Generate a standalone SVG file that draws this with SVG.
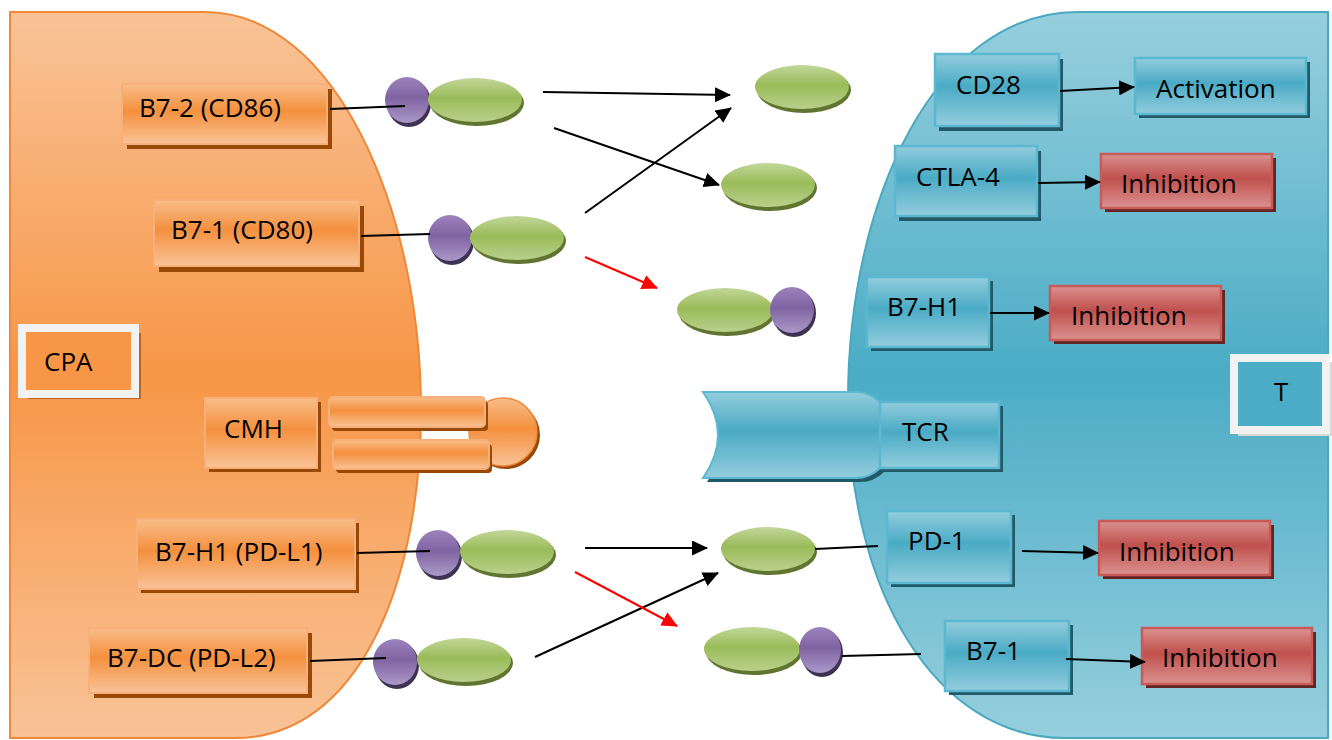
<svg xmlns="http://www.w3.org/2000/svg" width="1332" height="740" viewBox="0 0 1332 740">
<defs>
<linearGradient id="gCellO" x1="0" y1="0" x2="0" y2="1"><stop offset="0" stop-color="#f9c397"/><stop offset="0.5" stop-color="#f79646"/><stop offset="1" stop-color="#f9c397"/></linearGradient>
<linearGradient id="gCellB" x1="0" y1="0" x2="0" y2="1"><stop offset="0" stop-color="#96cfdd"/><stop offset="0.5" stop-color="#4bacc6"/><stop offset="1" stop-color="#96cfdd"/></linearGradient>
<linearGradient id="gO" x1="0" y1="0" x2="0" y2="1"><stop offset="0" stop-color="#f9bd8a"/><stop offset="0.45" stop-color="#f4903e"/><stop offset="1" stop-color="#f9c397"/></linearGradient>
<linearGradient id="gB" x1="0" y1="0" x2="0" y2="1"><stop offset="0" stop-color="#93cddd"/><stop offset="0.45" stop-color="#4aabc5"/><stop offset="1" stop-color="#93cddd"/></linearGradient>
<linearGradient id="gR" x1="0" y1="0" x2="0" y2="1"><stop offset="0" stop-color="#da9290"/><stop offset="0.45" stop-color="#c0504d"/><stop offset="1" stop-color="#da9290"/></linearGradient>
<linearGradient id="gG" x1="0" y1="0" x2="0" y2="1"><stop offset="0" stop-color="#c2d79a"/><stop offset="0.45" stop-color="#9bbb59"/><stop offset="1" stop-color="#b9d08c"/></linearGradient>
<linearGradient id="gP" x1="0" y1="0" x2="0" y2="1"><stop offset="0" stop-color="#9c83bd"/><stop offset="0.45" stop-color="#8064a2"/><stop offset="1" stop-color="#ab98c8"/></linearGradient>
<marker id="aKb" viewBox="0 0 16 15" refX="15" refY="7.5" markerWidth="16" markerHeight="15" markerUnits="userSpaceOnUse" orient="auto"><path d="M0,0 L16,7.5 L0,15 Z" fill="#000"/></marker>
<marker id="aR" viewBox="0 0 16 15" refX="15" refY="7.5" markerWidth="16" markerHeight="15" markerUnits="userSpaceOnUse" orient="auto"><path d="M0,0 L16,7.5 L0,15 Z" fill="#ff0000"/></marker>
</defs>
<style>
text{font-family:"Open Sans","Liberation Sans",Arial,sans-serif;font-size:26px;fill:#000}
.bo{fill:url(#gO);stroke:#f8b07a;stroke-width:2}
.so{fill:#984807}
.bb{fill:url(#gB);stroke:#5cb8d0;stroke-width:2.5}
.sb{fill:#215968}
.br{fill:url(#gR);stroke:#c85a57;stroke-width:2.5}
.sr{fill:#632523}
.gr{fill:url(#gG)}
.gs{fill:#5f7530}
.pu{fill:url(#gP)}
.ps{fill:#3f3151}
.ln{stroke:#000;stroke-width:2;fill:none}
.ak{stroke:#000;stroke-width:2;fill:none;marker-end:url(#aKb)}
.ar{stroke:#ff0000;stroke-width:2;fill:none;marker-end:url(#aR)}
</style>
<rect width="1332" height="740" fill="#fff"/>
<g id="cell-apc">
<path d="M10,12 H205 C335,12 421,210 421,410 C421,580 360,738 235,738 H10 Z" fill="url(#gCellO)" stroke="#f0883a" stroke-width="2"/>
</g>
<g id="cell-t">
<path d="M1328,12 H1078 C935,12 848,200 848,400 C848,590 935,738 1065,738 H1328 Z" fill="url(#gCellB)" stroke="#4aa8c0" stroke-width="2"/>
</g>
<g id="cpa">
<rect x="28" y="333" width="113" height="66" fill="#a85a1a" opacity="0.8"/>
<rect x="22" y="328" width="113" height="66" fill="#f79646" stroke="#f2f2f2" stroke-width="8"/>
<text x="44" y="371">CPA</text>
</g>
<g id="t-label">
<rect x="1238" y="362" width="94" height="74" fill="#d8d8d8"/>
<rect x="1234" y="358" width="92" height="72" fill="#4bacc6" stroke="#f2f2f2" stroke-width="8"/>
<text x="1274" y="401">T</text>
</g>
<g id="b7-2">
<rect x="127" y="89" width="205" height="60" class="so"/>
<rect x="122" y="84" width="205" height="60" class="bo"/>
<text x="139" y="117">B7-2 (CD86)</text>
</g>
<g id="b7-1-cd80">
<rect x="159" y="206" width="205" height="66" class="so"/>
<rect x="154" y="200" width="205" height="66" class="bo"/>
<text x="171" y="239">B7-1 (CD80)</text>
</g>
<g id="cmh">
<rect x="209" y="402" width="112" height="70" class="so"/>
<rect x="205" y="398" width="112" height="70" class="bo"/>
<text x="224" y="438">CMH</text>
</g>
<g id="mhc-molecule">
<circle cx="506" cy="435" r="34" class="so"/>
<circle cx="503" cy="432" r="34" fill="url(#gO)" stroke="#f08a3c" stroke-width="1.5"/>
<rect x="332" y="401" width="156" height="30" rx="4" class="so"/>
<rect x="329" y="397" width="156" height="30" rx="4" class="bo"/>
<rect x="336" y="444" width="156" height="29" rx="4" class="so"/>
<rect x="333" y="440" width="156" height="29" rx="4" class="bo"/>
</g>
<g id="b7-h1-pdl1">
<rect x="141" y="523" width="218" height="70" class="so"/>
<rect x="137" y="519" width="218" height="70" class="bo"/>
<text x="155" y="561">B7-H1 (PD-L1)</text>
</g>
<g id="b7-dc">
<rect x="94" y="633" width="218" height="65" class="so"/>
<rect x="89" y="628" width="218" height="65" class="bo"/>
<text x="107" y="667">B7-DC (PD-L2)</text>
</g>
<g id="lig1">
<ellipse cx="409" cy="103" rx="22" ry="24" class="ps"/><ellipse cx="407" cy="100" rx="22" ry="23" class="pu"/>
<ellipse cx="477" cy="103" rx="47" ry="23" class="gs"/><ellipse cx="475" cy="100" rx="47" ry="22" class="gr"/>
</g>
<g id="lig2">
<ellipse cx="452" cy="241" rx="22" ry="24" class="ps"/><ellipse cx="450" cy="238" rx="22" ry="23" class="pu"/>
<ellipse cx="519" cy="241" rx="47" ry="23" class="gs"/><ellipse cx="517" cy="238" rx="47" ry="22" class="gr"/>
</g>
<g id="lig3">
<ellipse cx="440" cy="556" rx="22" ry="24" class="ps"/><ellipse cx="438" cy="553" rx="22" ry="23" class="pu"/>
<ellipse cx="509" cy="555" rx="47" ry="23" class="gs"/><ellipse cx="507" cy="552" rx="47" ry="22" class="gr"/>
</g>
<g id="lig4">
<ellipse cx="397" cy="665" rx="22" ry="24" class="ps"/><ellipse cx="395" cy="662" rx="22" ry="23" class="pu"/>
<ellipse cx="466" cy="663" rx="47" ry="23" class="gs"/><ellipse cx="464" cy="660" rx="47" ry="22" class="gr"/>
</g>
<g id="rec1">
<ellipse cx="804" cy="90" rx="47" ry="23" class="gs"/><ellipse cx="802" cy="87" rx="47" ry="22" class="gr"/>
</g>
<g id="rec2">
<ellipse cx="770" cy="188" rx="47" ry="23" class="gs"/><ellipse cx="768" cy="185" rx="47" ry="22" class="gr"/>
</g>
<g id="rec3">
<ellipse cx="727" cy="313" rx="48" ry="23" class="gs"/><ellipse cx="725" cy="310" rx="48" ry="22" class="gr"/>
<ellipse cx="794" cy="313" rx="22" ry="24" class="ps"/><ellipse cx="792" cy="310" rx="22" ry="23" class="pu"/>
</g>
<g id="rec4">
<ellipse cx="770" cy="552" rx="47" ry="23" class="gs"/><ellipse cx="768" cy="549" rx="47" ry="22" class="gr"/>
</g>
<g id="rec5">
<ellipse cx="754" cy="652" rx="48" ry="23" class="gs"/><ellipse cx="752" cy="649" rx="48" ry="22" class="gr"/>
<ellipse cx="822" cy="653" rx="21" ry="24" class="ps"/><ellipse cx="820" cy="650" rx="21" ry="23" class="pu"/>
</g>
<g id="tcr">
<path d="M707,396 H860 Q874,396 884,406 V472 Q874,482 860,482 H707 Q737,439 707,396 Z" class="sb"/>
<path d="M703,392 H856 Q870,392 880,402 V468 Q870,478 856,478 H703 Q733,435 703,392 Z" fill="url(#gB)" stroke="#5cb8d0" stroke-width="2"/>
<rect x="884" y="406" width="119" height="66" class="sb"/>
<rect x="880" y="402" width="119" height="66" class="bb"/>
<text x="902" y="441">TCR</text>
</g>
<g id="cd28">
<rect x="939" y="59" width="124" height="72" class="sb"/>
<rect x="935" y="54" width="124" height="72" class="bb"/>
<text x="956" y="94">CD28</text>
</g>
<g id="activation">
<rect x="1139" y="62" width="171" height="56" class="sb"/>
<rect x="1135" y="58" width="171" height="56" class="bb"/>
<text x="1156" y="98">Activation</text>
</g>
<g id="ctla4">
<rect x="899" y="151" width="142" height="70" class="sb"/>
<rect x="895" y="146" width="142" height="70" class="bb"/>
<text x="916" y="186">CTLA-4</text>
</g>
<g id="inh1">
<rect x="1105" y="158" width="171" height="54" class="sr"/>
<rect x="1101" y="154" width="171" height="54" class="br"/>
<text x="1121" y="193">Inhibition</text>
</g>
<g id="b7-h1">
<rect x="871" y="281" width="122" height="70" class="sb"/>
<rect x="867" y="277" width="122" height="70" class="bb"/>
<text x="887" y="316">B7-H1</text>
</g>
<g id="inh2">
<rect x="1054" y="290" width="171" height="54" class="sr"/>
<rect x="1050" y="286" width="171" height="54" class="br"/>
<text x="1071" y="325">Inhibition</text>
</g>
<g id="pd1">
<rect x="891" y="515" width="124" height="72" class="sb"/>
<rect x="887" y="511" width="124" height="72" class="bb"/>
<text x="908" y="550">PD-1</text>
</g>
<g id="inh3">
<rect x="1103" y="525" width="171" height="54" class="sr"/>
<rect x="1099" y="521" width="171" height="54" class="br"/>
<text x="1119" y="561">Inhibition</text>
</g>
<g id="b7-1">
<rect x="949" y="625" width="124" height="70" class="sb"/>
<rect x="945" y="621" width="124" height="70" class="bb"/>
<text x="966" y="660">B7-1</text>
</g>
<g id="inh4">
<rect x="1146" y="632" width="170" height="56" class="sr"/>
<rect x="1142" y="628" width="170" height="56" class="br"/>
<text x="1162" y="667">Inhibition</text>
</g>
<g id="connectors">
<line x1="330" y1="109" x2="405" y2="106" class="ln"/>
<line x1="361" y1="236" x2="430" y2="234" class="ln"/>
<line x1="357" y1="553" x2="430" y2="551" class="ln"/>
<line x1="310" y1="661" x2="386" y2="658" class="ln"/>
<line x1="815" y1="549" x2="878" y2="546" class="ln"/>
<line x1="842" y1="656" x2="921" y2="654" class="ln"/>
<line x1="543" y1="92" x2="730" y2="95" class="ak"/>
<line x1="554" y1="128" x2="719" y2="185" class="ak"/>
<line x1="585" y1="213" x2="731" y2="108" class="ak"/>
<line x1="585" y1="257" x2="657" y2="288" class="ar"/>
<line x1="585" y1="548" x2="707" y2="548" class="ak"/>
<line x1="535" y1="657" x2="718" y2="573" class="ak"/>
<line x1="575" y1="572" x2="677" y2="626" class="ar"/>
<line x1="1060" y1="91" x2="1134" y2="87" class="ak"/>
<line x1="1038" y1="183" x2="1100" y2="182" class="ak"/>
<line x1="990" y1="313" x2="1049" y2="313" class="ak"/>
<line x1="1022" y1="551" x2="1098" y2="553" class="ak"/>
<line x1="1066" y1="659" x2="1145" y2="662" class="ak"/>
</g>
</svg>
